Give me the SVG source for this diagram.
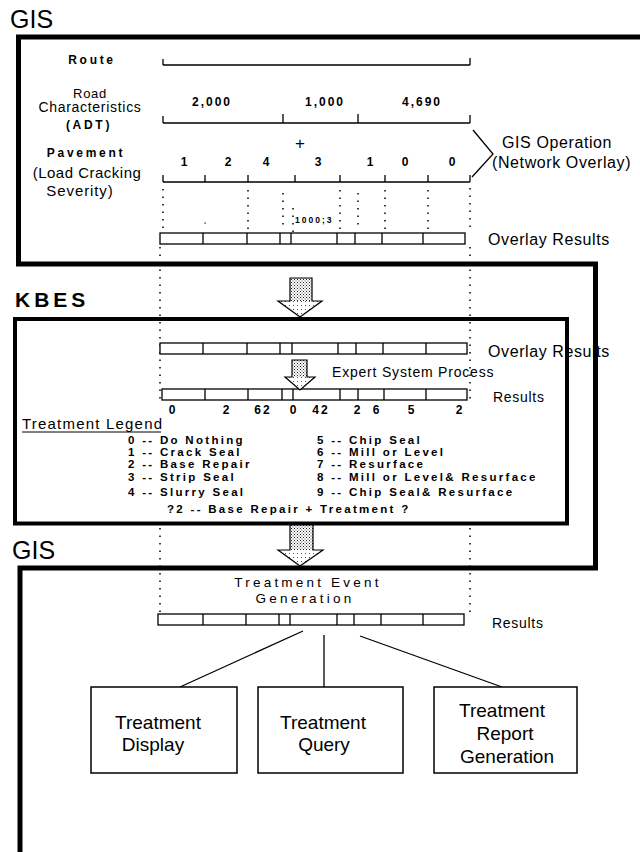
<svg xmlns="http://www.w3.org/2000/svg" width="640" height="852" viewBox="0 0 640 852">
<defs>
<style>
text{font-family:"Liberation Sans",Arial,Helvetica,sans-serif;fill:#000}
.title{font-size:25px}
.kb{font-size:21px;font-weight:bold;letter-spacing:4px}
.lbl{font-size:12px;font-weight:bold;letter-spacing:2.7px;text-anchor:middle}
.reg{font-size:14px;text-anchor:middle;letter-spacing:0.7px}
.num{font-size:12px;font-weight:bold;letter-spacing:2px;text-anchor:middle}
.side{font-size:16px;letter-spacing:0.6px}
.mid{font-size:14px;letter-spacing:0.8px}
.leg{font-size:11.5px;font-weight:bold;letter-spacing:2.3px}
.teg{font-size:13.5px;letter-spacing:3.2px;text-anchor:middle}
.btxt{font-size:19px;text-anchor:middle}
.box{fill:#fff;stroke:#000;stroke-width:1.5}
.bar{fill:#fff;stroke:#000;stroke-width:1.3}
.ln{stroke:#000;stroke-width:1.3;fill:none}
.dot{stroke:#000;stroke-width:1.5;stroke-dasharray:1.5 6;fill:none}
.frame{stroke:#000;fill:none;stroke-width:5}
.arr{fill:none;stroke:#000;stroke-width:1.2;stroke-linejoin:miter}
</style>
<pattern id="stip" width="3" height="3" patternUnits="userSpaceOnUse">
<rect width="3" height="3" fill="#fff"/>
<rect x="0" y="0" width="1" height="1" fill="#222"/>
<rect x="1.5" y="1.5" width="1" height="1" fill="#444"/>
</pattern>
<pattern id="stipL" width="4" height="4" patternUnits="userSpaceOnUse">
<rect width="4" height="4" fill="#fff"/>
<rect x="1" y="1" width="1" height="1" fill="#555"/>
</pattern>
</defs>
<rect width="640" height="852" fill="#fff"/>

<!-- frames -->
<g id="frames">
<path class="frame" d="M640,37 H18.5 V264 H595.5 V568 H20 V852"/>
<text class="title" x="10" y="28">GIS</text>
<text class="kb" x="15" y="307">KBES</text>
<text class="title" x="12" y="559">GIS</text>
</g>

<!-- GIS overlay section -->
<g id="gis-overlay">
<text class="lbl" x="92" y="64">Route</text>
<text class="reg" x="90" y="97.5" style="font-size:13px">Road</text>
<text class="reg" x="90" y="112">Characteristics</text>
<text class="lbl" x="89" y="129">(ADT)</text>
<text class="lbl" x="86" y="156.5">Pavement</text>
<text class="reg" x="87" y="178" style="font-size:15px;letter-spacing:0.5px">(Load Cracking</text>
<text class="reg" x="80" y="196" style="font-size:15px;letter-spacing:0.9px">Severity)</text>

<g class="ln">
<path d="M163,65 H470 M163,59 V65 M470,58 V65"/>
<path d="M163,123 H470 M163,116 V123 M283,114 V123 M358,114 V123 M470,115 V123"/>
<path d="M163,182 H470 M163,175 V182 M205,175 V182 M248,175 V182 M295,175 V182 M340,175 V182 M385,175 V182 M428,175 V182 M470,175 V182"/>
</g>

<text class="num" x="212" y="106">2,000</text>
<text class="num" x="325" y="106">1,000</text>
<text class="num" x="422" y="106">4,690</text>
<text x="300" y="149" style="font-size:17px;text-anchor:middle">+</text>
<text class="num" x="185" y="166">1</text>
<text class="num" x="229" y="166">2</text>
<text class="num" x="267" y="166">4</text>
<text class="num" x="319" y="166">3</text>
<text class="num" x="371" y="166">1</text>
<text class="num" x="406" y="166">0</text>
<text class="num" x="453" y="166">0</text>

<g class="dot">
<path d="M163,189 V231 M248,190 V231 M283,193 V227 M293,208 V232 M340,190 V232 M358,193 V230 M385,190 V231 M428,190 V231 M470,188 V229"/>
</g>
<rect x="204.5" y="222.5" width="1.2" height="1.2" fill="#000"/>
<text x="295" y="223" style="font-size:8.5px;font-weight:bold;letter-spacing:2px">1000;3</text>

<rect class="bar" x="160" y="233" width="305" height="11"/>
<path class="ln" d="M203,233 V244 M247,233 V244 M280,233 V244 M291,233 V244 M337,233 V244 M355,233 V244 M382,233 V244 M423,233 V244"/>
<text class="side" x="488" y="245">Overlay Results</text>

<polyline class="ln" points="473,130 493,154 472,177"/>
<text class="side" x="502" y="148">GIS Operation</text>
<text class="side" x="492" y="168">(Network Overlay)</text>
</g>

<!-- long dotted guides -->
<g id="guides" class="dot">
<path d="M160,247 V402 M160,528 V612 M470,247 V402 M470,528 V612"/>
</g>

<!-- KBES section -->
<g id="kbes">
<rect class="bar" x="160" y="343" width="307" height="11"/>
<path class="ln" d="M203,343 V354 M247,343 V354 M280,343 V354 M292,343 V354 M338,343 V354 M356,343 V354 M383,343 V354 M426,343 V354"/>
<text class="side" x="488" y="357">Overlay Results</text>
<text class="mid" x="332" y="377">Expert System Process</text>
<rect class="bar" x="162" y="389" width="305" height="11"/>
<path class="ln" d="M205,389 V400 M248,389 V400 M282,389 V400 M293,389 V400 M340,389 V400 M358,389 V400 M384,389 V400 M426,389 V400"/>
<text class="mid" x="493" y="402" style="letter-spacing:0.7px">Results</text>
<text class="num" x="173" y="414">0</text>
<text class="num" x="227" y="414">2</text>
<text class="num" x="263" y="414">62</text>
<text class="num" x="294" y="414">0</text>
<text class="num" x="321" y="414">42</text>
<text class="num" x="358" y="414">2</text>
<text class="num" x="377" y="414">6</text>
<text class="num" x="412" y="414">5</text>
<text class="num" x="460" y="414">2</text>

<text x="22" y="429" style="font-size:15px;letter-spacing:1.2px">Treatment Legend</text>
<line x1="22" y1="432" x2="161" y2="432" stroke="#000" stroke-width="1"/>
<text class="leg" x="128" y="444">0 -- Do Nothing</text>
<text class="leg" x="128" y="456">1 -- Crack Seal</text>
<text class="leg" x="128" y="468">2 -- Base Repair</text>
<text class="leg" x="128" y="481">3 -- Strip Seal</text>
<text class="leg" x="128" y="496">4 -- Slurry Seal</text>
<text class="leg" x="317" y="444">5 -- Chip Seal</text>
<text class="leg" x="317" y="456">6 -- Mill or Level</text>
<text class="leg" x="317" y="468">7 -- Resurface</text>
<text class="leg" x="317" y="481">8 -- Mill or Level&amp; Resurface</text>
<text class="leg" x="317" y="496">9 -- Chip Seal&amp; Resurface</text>
<text class="leg" x="167" y="513">?2 -- Base Repair + Treatment ?</text>
<rect x="15" y="319" width="552" height="204.5" fill="none" stroke="#000" stroke-width="4"/>
</g>

<!-- arrows -->
<g id="arrows">
<rect x="290" y="278" width="22" height="23" fill="url(#stip)"/>
<polygon points="278,301 322,301 300,317" fill="url(#stipL)"/>
<polygon class="arr" points="290,278 312,278 312,301 322,301 300,317 278,301 290,301"/>
<rect x="292" y="360" width="15" height="17" fill="url(#stip)"/>
<polygon points="285,377 315,377 300,390" fill="url(#stipL)"/>
<polygon class="arr" points="292,360 307,360 307,377 315,377 300,390 285,377 292,377"/>
<rect x="290" y="525" width="23" height="25" fill="url(#stip)"/>
<polygon points="278,550 323,550 300,566" fill="url(#stipL)"/>
<polygon class="arr" points="290,525 313,525 313,550 323,550 300,566 278,550 290,550"/>
</g>

<!-- lower GIS section -->
<g id="treatment-event">
<text class="teg" x="308" y="587">Treatment Event</text>
<text class="teg" x="305" y="603">Generation</text>
<rect class="bar" x="158" y="614" width="306" height="11"/>
<path class="ln" d="M203,614 V625 M246,614 V625 M279,614 V625 M290,614 V625 M337,614 V625 M354,614 V625 M381,614 V625 M423,614 V625"/>
<text class="mid" x="492" y="628" style="letter-spacing:0.7px">Results</text>
</g>

<g id="connectors" class="ln">
<line x1="303" y1="631" x2="180" y2="687"/>
<line x1="324" y1="635" x2="324" y2="687"/>
<line x1="360" y1="636" x2="502" y2="687"/>
</g>

<g id="treatment-display">
<rect class="box" x="91" y="687" width="146" height="86"/>
<text class="btxt" x="158" y="729">Treatment</text>
<text class="btxt" x="153" y="751">Display</text>
</g>
<g id="treatment-query">
<rect class="box" x="258" y="687" width="145" height="86"/>
<text class="btxt" x="323" y="729">Treatment</text>
<text class="btxt" x="324" y="751">Query</text>
</g>
<g id="treatment-report">
<rect class="box" x="434" y="687" width="143" height="86"/>
<text class="btxt" x="502" y="717">Treatment</text>
<text class="btxt" x="505" y="740">Report</text>
<text class="btxt" x="507" y="763">Generation</text>
</g>
</svg>
